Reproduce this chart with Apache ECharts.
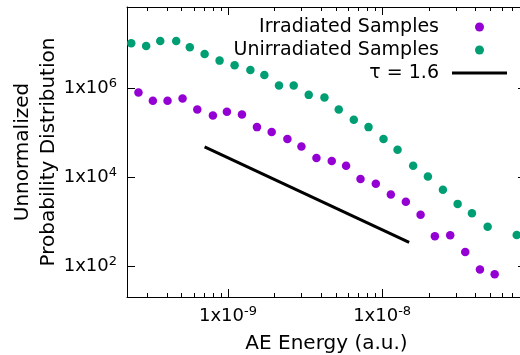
<!DOCTYPE html>
<html>
<head>
<meta charset="utf-8">
<script src="https://cdn.jsdelivr.net/npm/echarts@6/dist/echarts.min.js"></script>
<style>
  html, body { margin: 0; padding: 0; background: #fff; }
  #chart { width: 520px; height: 355px; }
</style>
</head>
<body>
<div id="chart"></div>
<script>
// AE energy (a.u.) and counts
const irradiatedEnergy = [
  2.63e-10, 3.26e-10, 4.06e-10, 5.08e-10, 6.33e-10, 7.99e-10, 9.85e-10,
  1.233e-9, 1.543e-9, 1.922e-9, 2.431e-9, 2.997e-9, 3.75e-9, 4.714e-9,
  5.837e-9, 7.24e-9, 9.1e-9, 1.139e-8, 1.425e-8, 1.776e-8, 2.198e-8,
  2.764e-8, 3.459e-8, 4.308e-8, 5.368e-8
];
const irradiatedCount = [
  7.85e5, 5.12e5, 5.12e5, 5.76e5, 3.27e5, 2.4e5, 2.9e5,
  2.53e5, 1.32e5, 1.02e5, 7.12e4, 4.86e4, 2.67e4, 2.29e4,
  1.8e4, 9070, 7110, 4100, 2820, 1440, 471,
  497, 211, 84.8, 66.5
];
const unirradiatedEnergy = [
  2.36e-10, 2.95e-10, 3.64e-10, 4.62e-10, 5.66e-10, 7.06e-10, 8.83e-10,
  1.105e-9, 1.398e-9, 1.723e-9, 2.144e-9, 2.671e-9, 3.342e-9, 4.227e-9,
  5.233e-9, 6.55e-9, 8.16e-9, 1.021e-8, 1.259e-8, 1.59e-8, 1.981e-8,
  2.478e-8, 3.088e-8, 3.824e-8, 4.834e-8, 7.46e-8
];
const unirradiatedCount = [
  1.0e7, 8.71e6, 1.125e7, 1.125e7, 8.14e6, 5.77e6, 4.08e6,
  3.22e6, 2.53e6, 1.954e6, 1.126e6, 1.126e6, 6.97e5, 6.07e5,
  3.27e5, 1.923e5, 1.32e5, 7.12e4, 4.1e4, 1.8e4, 1.037e4,
  5220, 2515, 1542, 777, 507
];
// power law guide, tau = 1.6
const fitEnergy = [7.06e-10, 1.497e-8];
const fitCount = [4.79e4, 346];

const xRange = [2.216e-10, 8.57e-8];
const yRange = [20.6, 6.49e7];
const xMajorTicks = [1e-9, 1e-8];
const xMinorTicks = [
  3e-10, 4e-10, 5e-10, 6e-10, 7e-10, 8e-10, 9e-10,
  2e-9, 3e-9, 4e-9, 5e-9, 6e-9, 7e-9, 8e-9, 9e-9,
  2e-8, 3e-8, 4e-8, 5e-8, 6e-8, 7e-8, 8e-8
];
const yMajorTicks = [1e2, 1e4, 1e6];

const FONT = "DejaVu Sans";
const pair = (xs, ys) => xs.map((x, i) => [x, ys[i]]);

const powLabel = (v) => "{b|1x10}{s|" + Math.round(Math.log10(v)) + "}";
const labelRich = {
  b: { fontFamily: FONT, fontSize: 18, color: "#000", lineHeight: 22 },
  s: { fontFamily: FONT, fontSize: 13, color: "#000", lineHeight: 13, verticalAlign: "top" }
};
const axisLineBlack = { show: true, onZero: false, lineStyle: { color: "#000", width: 1 } };
const crisp = (v) => Math.round(v) + 0.5;
const xMid = Math.sqrt(xRange[0] * xRange[1]);
const yMid = Math.sqrt(yRange[0] * yRange[1]);

// inward tick marks on both sides of the box; each item sits inside the
// plot and the marks are placed at the box edges through api.coord
function xTickSeries(values, len) {
  return {
    name: "xticks" + len,
    type: "custom",
    silent: true,
    clip: false,
    z: 3,
    xAxisIndex: 0,
    yAxisIndex: 0,
    data: values.map((v) => [v, yMid]),
    renderItem: (params, api) => {
      const b = api.coord([api.value(0), yRange[0]]);
      const t = api.coord([api.value(0), yRange[1]]);
      const x = crisp(b[0]);
      return {
        type: "group",
        children: [
          { type: "line", shape: { x1: x, y1: b[1], x2: x, y2: b[1] - len }, style: { stroke: "#000", lineWidth: 1 } },
          { type: "line", shape: { x1: x, y1: t[1], x2: x, y2: t[1] + len }, style: { stroke: "#000", lineWidth: 1 } }
        ]
      };
    }
  };
}

function yTickSeries(values, len) {
  return {
    name: "yticks" + len,
    type: "custom",
    silent: true,
    clip: false,
    z: 3,
    xAxisIndex: 0,
    yAxisIndex: 0,
    data: values.map((v) => [xMid, v]),
    renderItem: (params, api) => {
      const l = api.coord([xRange[0], api.value(1)]);
      const r = api.coord([xRange[1], api.value(1)]);
      const y = crisp(l[1]);
      return {
        type: "group",
        children: [
          { type: "line", shape: { x1: l[0], y1: y, x2: l[0] + len, y2: y }, style: { stroke: "#000", lineWidth: 1 } },
          { type: "line", shape: { x1: r[0], y1: y, x2: r[0] - len, y2: y }, style: { stroke: "#000", lineWidth: 1 } }
        ]
      };
    }
  };
}

const chart = echarts.init(document.getElementById("chart"), null, { renderer: "canvas" });

chart.setOption({
  animation: false,
  backgroundColor: "#fff",
  grid: { left: 127, top: 7, right: -6, bottom: 58, containLabel: false, outerBoundsMode: "none" },
  legend: {
    orient: "vertical",
    align: "right",
    right: 13,
    top: 17,
    padding: 0,
    itemGap: 3,
    itemWidth: 55,
    itemHeight: 9,
    textStyle: { fontFamily: FONT, fontSize: 19, lineHeight: 20, color: "#000", padding: [0, 8, 0, 0] },
    data: [
      "Irradiated Samples",
      "Unirradiated Samples",
      { name: "τ = 1.6", icon: "path://M0,0h55v3h-55z" }
    ]
  },
  xAxis: [
    {
      type: "log",
      logBase: 10,
      position: "bottom",
      min: xRange[0],
      max: xRange[1],
      axisLine: axisLineBlack,
      splitLine: { show: false },
      axisTick: { show: false },
      axisLabel: { show: true, customValues: xMajorTicks, formatter: powLabel, rich: labelRich, margin: 8 },
      name: "AE Energy (a.u.)",
      nameLocation: "middle",
      nameGap: 37,
      nameMoveOverlap: false,
      nameTextStyle: { fontFamily: FONT, fontSize: 20, color: "#000" }
    },
    {
      type: "log",
      logBase: 10,
      position: "top",
      min: xRange[0],
      max: xRange[1],
      axisLine: axisLineBlack,
      splitLine: { show: false },
      axisTick: { show: false },
      axisLabel: { show: false }
    }
  ],
  yAxis: [
    {
      type: "log",
      logBase: 10,
      position: "left",
      min: yRange[0],
      max: yRange[1],
      axisLine: axisLineBlack,
      splitLine: { show: false },
      axisTick: { show: false },
      axisLabel: { show: true, customValues: yMajorTicks, formatter: powLabel, rich: labelRich, margin: 10 },
      name: "Unnormalized\nProbability Distribution",
      nameLocation: "middle",
      nameRotate: 90,
      nameGap: 65,
      nameMoveOverlap: false,
      nameTextStyle: { fontFamily: FONT, fontSize: 20, color: "#000", lineHeight: 26 }
    },
    {
      type: "log",
      logBase: 10,
      position: "right",
      min: yRange[0],
      max: yRange[1],
      axisLine: axisLineBlack,
      splitLine: { show: false },
      axisTick: { show: false },
      axisLabel: { show: false }
    }
  ],
  series: [
    xTickSeries(xMajorTicks, 8),
    xTickSeries(xMinorTicks, 4),
    yTickSeries(yMajorTicks, 8),
    {
      name: "Irradiated Samples",
      type: "scatter",
      xAxisIndex: 0,
      yAxisIndex: 0,
      symbolSize: 8.5,
      itemStyle: { color: "#9400d3", opacity: 1 },
      data: pair(irradiatedEnergy, irradiatedCount)
    },
    {
      name: "Unirradiated Samples",
      type: "scatter",
      xAxisIndex: 0,
      yAxisIndex: 0,
      symbolSize: 8.5,
      itemStyle: { color: "#009e73", opacity: 1 },
      data: pair(unirradiatedEnergy, unirradiatedCount)
    },
    {
      name: "τ = 1.6",
      type: "line",
      xAxisIndex: 0,
      yAxisIndex: 0,
      symbol: "none",
      lineStyle: { color: "#000", width: 3 },
      itemStyle: { color: "#000" },
      data: pair(fitEnergy, fitCount)
    }
  ]
});
</script>
</body>
</html>
